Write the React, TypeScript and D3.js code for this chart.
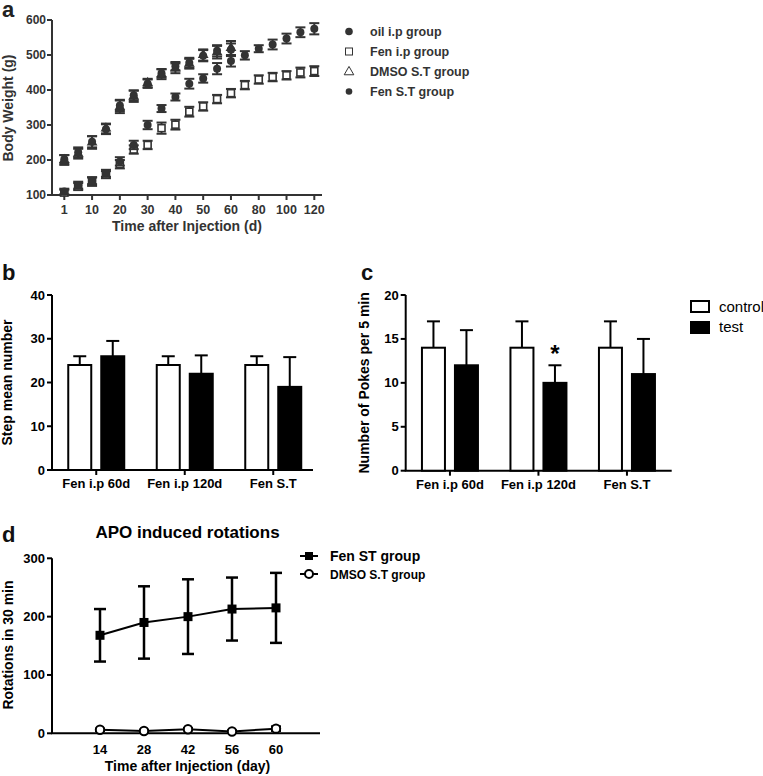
import React from "react";
import * as d3 from "d3";

// ---------- Panel a data ----------
const dayCats = ["1","5","10","15","20","25","30","35","40","45","50","55","60","70","80","90","100","110","120"];
const dayTickLabels = ["1","10","20","30","40","50","60","80","100","120"];
const weightTicks = [100,200,300,400,500,600];
const oilIp = [110,128,141,162,196,243,300,347,380,418,433,461,483,499,518,530,547,565,575];
const oilIpErr = [8,10,10,10,12,12,12,10,10,14,12,16,16,12,10,14,14,14,16];
const fenIp = [107,124,138,158,188,230,243,291,301,338,353,374,391,414,430,437,442,450,454];
const fenIpErr = [8,10,12,10,12,12,12,16,14,14,12,12,12,12,12,12,12,14,14];
const dmsoSt = [200,218,250,290,352,382,420,445,462,475,500,508,520];
const dmsoStErr = [14,14,18,14,18,16,12,14,14,14,16,18,20];
const fenSt = [202,222,252,288,356,385,418,448,468,478,498,512,515];
const fenStErr = [12,14,16,14,16,14,12,12,12,14,16,16,18];

// ---------- Panel b / c data ----------
const groups = ["Fen i.p 60d","Fen i.p 120d","Fen S.T"];
const stepTicks = [0,10,20,30,40];
const stepControl = [24,24,24];
const stepControlErr = [2,2,2];
const stepTest = [26,22,19];
const stepTestErr = [3.5,4.2,6.8];
const pokeTicks = [0,5,10,15,20];
const pokeControl = [14,14,14];
const pokeControlErr = [3,3,3];
const pokeTest = [12,10,11];
const pokeTestErr = [4,2,4];

// ---------- Panel d data ----------
const rotDays = ["14","28","42","56","60"];
const rotTicks = [0,100,200,300];
const fenStRot = [168,190,200,213,215];
const fenStRotErr = [45,62,64,54,60];
const dmsoRot = [6,4,7,3,8];
const dmsoRotErr = [2,2,2,2,4];

const FONT = "'Liberation Sans', Arial, Helvetica, sans-serif";
const DARK = "#333";

function ErrBar({ x, y0, y1, w, color, sw }: { x: number; y0: number; y1: number; w: number; color: string; sw: number }) {
  return (
    <g stroke={color} strokeWidth={sw}>
      <line x1={x} x2={x} y1={y0} y2={y1} />
      <line x1={x - w / 2} x2={x + w / 2} y1={y0} y2={y0} />
      <line x1={x - w / 2} x2={x + w / 2} y1={y1} y2={y1} />
    </g>
  );
}

function PanelA() {
  const x = d3.scalePoint<string>().domain(dayCats).range([64.3, 314.3]);
  const y = d3.scaleLinear().domain([100, 600]).range([195, 20]);
  const tri = d3.symbol().type(d3.symbolTriangle).size(50)()!;
  const series = [
    { vals: fenIp, err: fenIpErr, kind: "square" },
    { vals: oilIp, err: oilIpErr, kind: "circle" },
    { vals: dmsoSt, err: dmsoStErr, kind: "tri" },
    { vals: fenSt, err: fenStErr, kind: "circle" },
  ];
  return (
    <g fontFamily={FONT} fontWeight="bold">
      <text x={2} y={17} fontSize={22} fill="#222">a</text>
      {/* axes */}
      <line x1={52} x2={52} y1={20} y2={195} stroke={DARK} strokeWidth={2} />
      <line x1={51} x2={322} y1={195} y2={195} stroke={DARK} strokeWidth={2} />
      {weightTicks.map((t) => (
        <g key={t}>
          <line x1={47} x2={52} y1={y(t)} y2={y(t)} stroke={DARK} strokeWidth={2} />
          <text x={46} y={y(t) + 4} fontSize={12} textAnchor="end" fill={DARK}>{t}</text>
        </g>
      ))}
      {dayTickLabels.map((t) => (
        <g key={t}>
          <line x1={x(t)!} x2={x(t)!} y1={195} y2={200} stroke={DARK} strokeWidth={2} />
          <text x={x(t)!} y={214} fontSize={12.5} textAnchor="middle" fill={DARK}>{t}</text>
        </g>
      ))}
      <text x={187} y={231} fontSize={14} textAnchor="middle" fill={DARK}>Time after Injection (d)</text>
      <text transform={`translate(13,108) rotate(-90)`} fontSize={14} textAnchor="middle" fill={DARK}>Body Weight (g)</text>
      {/* data */}
      {series.map((s, si) => (
        <g key={si}>
          {s.vals.map((v, i) => {
            const cx = x(dayCats[i])!;
            const cy = y(v);
            return (
              <g key={i}>
                <ErrBar x={cx} y0={y(v + s.err[i])} y1={y(v - s.err[i])} w={10} color={DARK} sw={2} />
                {s.kind === "square" && (
                  <rect x={cx - 3.5} y={cy - 3.5} width={7} height={7} fill="#fff" stroke={DARK} strokeWidth={1.6} />
                )}
                {s.kind === "circle" && <circle cx={cx} cy={cy} r={4} fill={DARK} />}
                {s.kind === "tri" && <path d={tri} transform={`translate(${cx},${cy})`} fill={DARK} />}
              </g>
            );
          })}
        </g>
      ))}
      {/* legend */}
      <g fill={DARK} fontSize={12.5}>
        <circle cx={349} cy={31.5} r={3.8} fill={DARK} />
        <text x={370} y={36}>oil i.p group</text>
        <rect x={345.5} y={48} width={7} height={7} fill="#fff" stroke={DARK} strokeWidth={1} />
        <text x={370} y={56}>Fen i.p group</text>
        <path d={d3.symbol().type(d3.symbolTriangle).size(40)()!} transform="translate(349,72)" fill="#fff" stroke={DARK} strokeWidth={1} />
        <text x={370} y={76}>DMSO S.T group</text>
        <circle cx={349} cy={91.5} r={3.3} fill={DARK} />
        <text x={370} y={96}>Fen S.T group</text>
      </g>
    </g>
  );
}

function BarPanel({
  left, right, axisEnd, yMax, yTop, yBottom, ticks, control, controlErr, test, testErr, ylabel, labelX, letter, letterX, star,
}: {
  left: number; right: number; axisEnd: number; yMax: number; yTop: number; yBottom: number; ticks: number[];
  control: number[]; controlErr: number[]; test: number[]; testErr: number[]; ylabel: string; labelX: number;
  letter: string; letterX: number; star?: number;
}) {
  const x = d3.scaleBand<string>().domain(groups).range([left, right]);
  const y = d3.scaleLinear().domain([0, yMax]).range([yBottom, yTop]);
  const yAxisX = left;
  return (
    <g fontFamily={FONT} fontWeight="bold" fill="#000">
      <text x={letterX} y={280} fontSize={22} fill="#111">{letter}</text>
      <line x1={yAxisX} x2={yAxisX} y1={yTop} y2={yBottom} stroke="#000" strokeWidth={2} />
      <line x1={yAxisX - 1} x2={axisEnd} y1={yBottom} y2={yBottom} stroke="#000" strokeWidth={2} />
      {ticks.map((t) => (
        <g key={t}>
          <line x1={yAxisX - 5} x2={yAxisX} y1={y(t)} y2={y(t)} stroke="#000" strokeWidth={2} />
          <text x={yAxisX - 7} y={y(t) + 4.5} fontSize={13} textAnchor="end">{t}</text>
        </g>
      ))}
      <text transform={`translate(${labelX},${(yTop + yBottom) / 2}) rotate(-90)`} fontSize={14} textAnchor="middle">{ylabel}</text>
      {groups.map((g, i) => {
        const c = x(g)! + x.bandwidth() / 2;
        const cL = c - 16.5;
        const cR = c + 16.5;
        return (
          <g key={g}>
            <line x1={c} x2={c} y1={yBottom} y2={yBottom + 5} stroke="#000" strokeWidth={2} />
            <text x={c} y={yBottom + 18} fontSize={13} textAnchor="middle">{g}</text>
            {/* control */}
            <line x1={cL} x2={cL} y1={y(control[i])} y2={y(control[i] + controlErr[i])} stroke="#000" strokeWidth={2} />
            <line x1={cL - 6.5} x2={cL + 6.5} y1={y(control[i] + controlErr[i])} y2={y(control[i] + controlErr[i])} stroke="#000" strokeWidth={2} />
            <rect x={c - 28} y={y(control[i])} width={23} height={yBottom - y(control[i])} fill="#fff" stroke="#000" strokeWidth={2} />
            {/* test */}
            <line x1={cR} x2={cR} y1={y(test[i])} y2={y(test[i] + testErr[i])} stroke="#000" strokeWidth={2} />
            <line x1={cR - 6.5} x2={cR + 6.5} y1={y(test[i] + testErr[i])} y2={y(test[i] + testErr[i])} stroke="#000" strokeWidth={2} />
            <rect x={c + 5} y={y(test[i])} width={23} height={yBottom - y(test[i])} fill="#000" stroke="#000" strokeWidth={2} />
            {star === i && (
              <text x={cR} y={y(test[i] + testErr[i]) - 3} fontSize={24} textAnchor="middle">*</text>
            )}
          </g>
        );
      })}
    </g>
  );
}

function PanelD() {
  const x = d3.scalePoint<string>().domain(rotDays).range([100, 276]);
  const y = d3.scaleLinear().domain([0, 300]).range([733.3, 558.3]);
  const line = d3.line<number>().x((_, i) => x(rotDays[i])!).y((v) => y(v));
  return (
    <g fontFamily={FONT} fontWeight="bold" fill="#000">
      <text x={2} y={542} fontSize={22} fill="#111">d</text>
      <text x={187.5} y={538} fontSize={17} textAnchor="middle">APO induced rotations</text>
      <line x1={52} x2={52} y1={558.3} y2={733.3} stroke="#000" strokeWidth={2} />
      <line x1={51} x2={320} y1={733.3} y2={733.3} stroke="#000" strokeWidth={2} />
      {rotTicks.map((t) => (
        <g key={t}>
          <line x1={47} x2={52} y1={y(t)} y2={y(t)} stroke="#000" strokeWidth={2} />
          <text x={45} y={y(t) + 4.5} fontSize={13} textAnchor="end">{t}</text>
        </g>
      ))}
      {rotDays.map((d) => (
        <text key={d} x={x(d)!} y={754} fontSize={13} textAnchor="middle">{d}</text>
      ))}
      <text x={187.5} y={771} fontSize={14} textAnchor="middle">Time after Injection (day)</text>
      <text transform="translate(13,645) rotate(-90)" fontSize={14} textAnchor="middle">Rotations in 30 min</text>
      {/* Fen ST */}
      <path d={line(fenStRot)!} fill="none" stroke="#000" strokeWidth={2} />
      {fenStRot.map((v, i) => (
        <g key={i}>
          <ErrBar x={x(rotDays[i])!} y0={y(v + fenStRotErr[i])} y1={y(v - fenStRotErr[i])} w={12} color="#000" sw={2.5} />
          <rect x={x(rotDays[i])! - 4.5} y={y(v) - 4.5} width={9} height={9} fill="#000" />
        </g>
      ))}
      {/* DMSO */}
      <path d={line(dmsoRot)!} fill="none" stroke="#000" strokeWidth={2} />
      {dmsoRot.map((v, i) => (
        <g key={i}>
          <ErrBar x={x(rotDays[i])!} y0={y(v + dmsoRotErr[i])} y1={y(v - dmsoRotErr[i])} w={10} color="#000" sw={2} />
          <circle cx={x(rotDays[i])!} cy={y(v)} r={4.2} fill="#fff" stroke="#000" strokeWidth={2} />
        </g>
      ))}
      {/* legend */}
      <line x1={300} x2={318} y1={556} y2={556} stroke="#000" strokeWidth={2} />
      <rect x={305} y={552} width={8} height={8} fill="#000" />
      <text x={330} y={561} fontSize={14}>Fen ST group</text>
      <line x1={300} x2={318} y1={574} y2={574} stroke="#000" strokeWidth={2} />
      <circle cx={309} cy={574} r={4} fill="#fff" stroke="#000" strokeWidth={2} />
      <text x={330} y={578.5} fontSize={12}>DMSO S.T group</text>
    </g>
  );
}

export default function App() {
  return (
    <svg width={763} height={776} style={{ position: "absolute", left: 0, top: 0, background: "#fff" }}>
      <rect width={763} height={776} fill="#fff" />
      <PanelA />
      <BarPanel
        left={52} right={317.5} axisEnd={313} yMax={40} yTop={295} yBottom={470} ticks={stepTicks}
        control={stepControl} controlErr={stepControlErr} test={stepTest} testErr={stepTestErr}
        ylabel="Step mean number" labelX={12} letter="b" letterX={2}
      />
      <BarPanel
        left={405.7} right={671.2} axisEnd={671.7} yMax={20} yTop={295} yBottom={470.7} ticks={pokeTicks}
        control={pokeControl} controlErr={pokeControlErr} test={pokeTest} testErr={pokeTestErr}
        ylabel="Number of Pokes per 5 min" labelX={369} letter="c" letterX={361} star={1}
      />
      <g fontFamily={FONT}>
        <rect x={691} y={301} width={18} height={11} fill="#fff" stroke="#000" strokeWidth={2} />
        <text x={719} y={311.5} fontSize={15}>control</text>
        <rect x={691} y={322} width={18} height={11} fill="#000" stroke="#000" strokeWidth={2} />
        <text x={719} y={332} fontSize={15}>test</text>
      </g>
      <PanelD />
    </svg>
  );
}
